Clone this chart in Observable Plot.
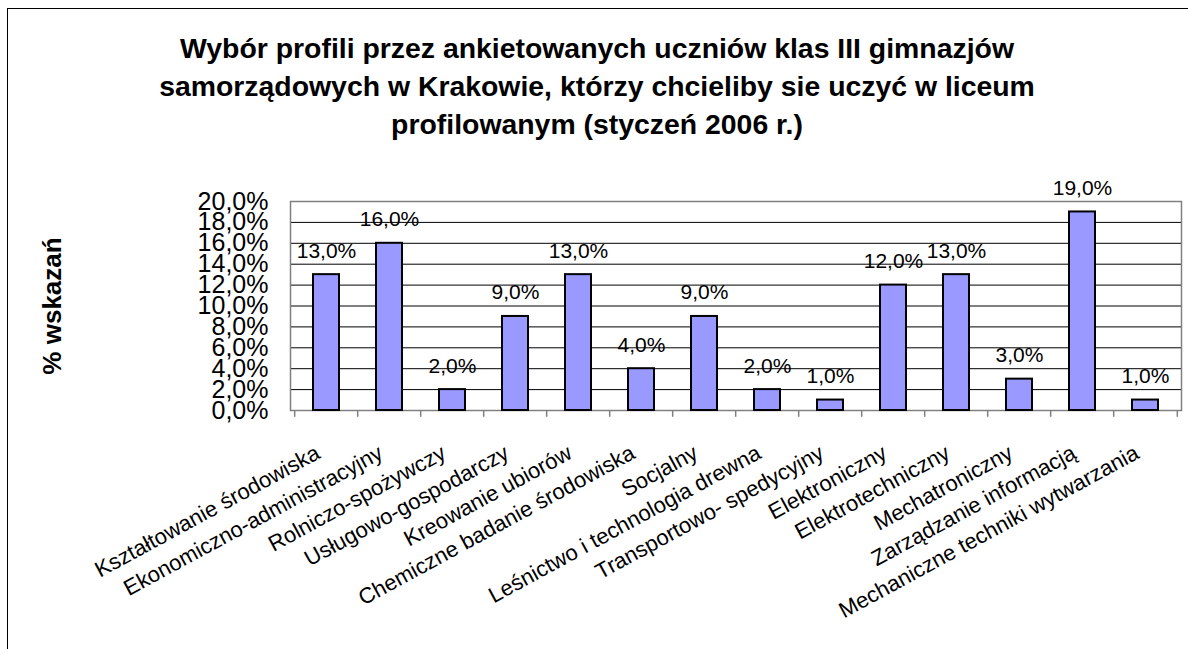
<!DOCTYPE html>
<html>
<head>
<meta charset="utf-8">
<script src="https://cdn.jsdelivr.net/npm/d3@7"></script>
<script src="https://cdn.jsdelivr.net/npm/@observablehq/plot@0.6"></script>
<style>
  html, body { margin: 0; padding: 0; background: #fff; overflow: hidden; }
  #wrap { position: relative; width: 1188px; height: 649px; overflow: hidden; font-family: "Liberation Sans", Arial, sans-serif; }
  #border { position: absolute; left: 7px; top: 8px; width: 1400px; height: 900px; border: 1px solid #000; }
  #title { position: absolute; left: 0; top: 29px; width: 1194px; text-align: center; font-size: 28.4px; font-weight: bold; line-height: 38px; color: #000; }
  #chart { position: absolute; left: 0; top: 165px; }
</style>
</head>
<body>
<div id="wrap">
  <div id="border"></div>
  <div id="title"></div>
  <div id="chart"></div>
</div>
<script>
const titleLines = [
  "Wybór profili przez ankietowanych uczniów klas III gimnazjów",
  "samorządowych w Krakowie, którzy chcieliby sie uczyć w liceum",
  "profilowanym (styczeń 2006 r.)"
];
const yLabel = "% wskazań";
const categories = [
  "Kształtowanie środowiska",
  "Ekonomiczno-administracyjny",
  "Rolniczo-spożywczy",
  "Usługowo-gospodarczy",
  "Kreowanie ubiorów",
  "Chemiczne badanie środowiska",
  "Socjalny",
  "Leśnictwo i technologia drewna",
  "Transportowo- spedycyjny",
  "Elektroniczny",
  "Elektrotechniczny",
  "Mechatroniczny",
  "Zarządzanie informacją",
  "Mechaniczne techniki wytwarzania"
];
const values = [13, 16, 2, 9, 13, 4, 9, 2, 1, 12, 13, 3, 19, 1];
const yTicks = [0, 2, 4, 6, 8, 10, 12, 14, 16, 18, 20];

const data = categories.map((c, i) => ({cat: c, val: values[i]}));
const fmt = v => v.toFixed(1).replace(".", ",") + "%";

document.getElementById("title").innerHTML = titleLines.join("<br>");

const width = 1188, height = 484;
const marginLeft = 290, marginRight = 7, marginTop = 36, marginBottom = 239;
const step = (width - marginLeft - marginRight) / categories.length;

const chart = Plot.plot({
  width, height, marginLeft, marginRight, marginTop, marginBottom,
  style: {fontFamily: "'Liberation Sans', Arial, sans-serif", fontSize: "25px", color: "#000", background: "transparent", overflow: "visible"},
  x: {domain: categories, paddingInner: 0.59, paddingOuter: 0.295, axis: null},
  y: {domain: [0, 20], ticks: yTicks, tickFormat: fmt, tickSize: 0, tickPadding: 22, label: null},
  marks: [
    Plot.ruleY(yTicks.slice(1, -1), {stroke: "#000", strokeWidth: 1}),
    Plot.ruleX(categories, {x: d => d, y1: 0, y2: -0.65, dx: -step / 2, stroke: "#808080", strokeWidth: 1.5}),
    Plot.ruleX(categories.slice(-1), {x: d => d, y1: 0, y2: -0.65, dx: step / 2, stroke: "#808080", strokeWidth: 1.5}),
    Plot.frame({stroke: "#808080", strokeWidth: 1.5}),
    Plot.barY(data, {x: "cat", y: "val", fill: "#9999FF", stroke: "#000", strokeWidth: 2}),
    Plot.text(data, {x: "cat", y: "val", text: d => fmt(d.val), dy: -17, lineAnchor: "bottom", fontSize: 21, fill: "#000"}),
    Plot.text(categories, {x: d => d, frameAnchor: "bottom", text: d => d, rotate: -28.5, textAnchor: "end", lineAnchor: "bottom", dx: -5, dy: 47, fontSize: 22, fill: "#000"}),
    Plot.text([yLabel], {frameAnchor: "left", text: d => d, rotate: -90, textAnchor: "middle", lineAnchor: "middle", dx: -238, fontSize: 26, fontWeight: "bold", fill: "#000"})
  ]
});
document.getElementById("chart").appendChild(chart);
</script>
</body>
</html>
